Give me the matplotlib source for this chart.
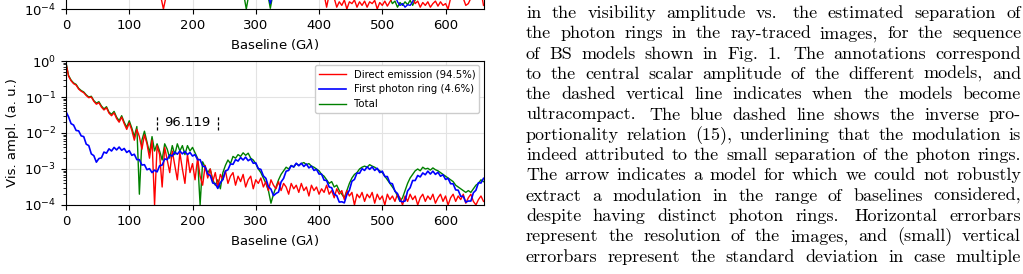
import matplotlib
matplotlib.use("Agg")
import matplotlib.pyplot as plt
import numpy as np

# sampling grid of the baseline (G lambda)
baseline = np.arange(0, 661, 4)

# log10 of the visibility amplitude
direct_log = [
    -0.06, -0.42, -0.55, -0.63, -0.67, -0.78, -0.84, -0.88, -0.96, -1.02,
    -1.00, -1.12, -1.20, -1.16, -1.28, -1.36, -1.30, -1.45, -1.52, -1.44,
    -1.60, -1.70, -1.56, -1.74, -1.90, -1.72, -1.92, -2.20, -1.90, -2.10,
    -2.45, -2.05, -2.30, -2.70, -2.20, -4.00, -2.35, -2.60, -3.50, -2.40,
    -2.75, -3.10, -2.50, -2.90, -3.30, -2.55, -3.00, -3.40, -2.60, -3.10,
    -2.85, -3.30, -2.70, -3.20, -3.45, -2.90, -3.25, -3.00, -3.35, -3.10,
    -3.50, -3.15, -3.30, -3.05, -3.40, -3.20, -3.10, -3.45, -3.20, -3.35,
    -3.15, -3.50, -3.30, -3.20, -3.55, -3.30, -3.40, -3.25, -3.50, -3.35,
    -3.60, -3.30, -3.45, -3.55, -3.35, -3.60, -3.40, -3.50, -3.70, -3.40,
    -3.55, -3.45, -3.65, -3.40, -3.60, -3.50, -3.75, -3.45, -3.60, -3.50,
    -3.70, -3.55, -3.65, -3.45, -3.70, -3.60, -3.80, -3.55, -3.70, -3.60,
    -3.85, -3.60, -3.75, -3.65, -4.00, -3.70, -3.80, -3.65, -3.90, -3.70,
    -3.80, -3.65, -3.95, -3.70, -3.85, -3.75, -4.00, -3.70, -3.85, -3.75,
    -3.90, -3.70, -3.80, -4.00, -3.75, -3.90, -3.70, -3.85, -3.75, -4.00,
    -3.80, -3.70, -3.90, -3.75, -3.85, -3.70, -3.95, -3.80, -3.70, -3.90,
    -3.75, -4.00, -3.80, -3.70, -3.90, -3.75, -3.85, -3.70, -3.95, -3.80,
    -3.70, -3.90, -4.00, -3.85, -3.75, -3.90,
]
ring_log = [
    -1.41, -1.55, -1.74, -1.78, -1.93, -1.94, -2.08, -2.10, -2.31, -2.35,
    -2.58, -2.63, -2.81, -2.71, -2.69, -2.53, -2.56, -2.44, -2.50, -2.40,
    -2.47, -2.39, -2.48, -2.43, -2.54, -2.49, -2.62, -2.59, -2.74, -2.74,
    -2.89, -2.88, -3.02, -2.99, -3.10, -3.03, -3.08, -2.91, -2.89, -2.72,
    -2.74, -2.61, -2.64, -2.53, -2.59, -2.50, -2.58, -2.51, -2.60, -2.54,
    -2.64, -2.60, -2.74, -2.74, -2.92, -2.94, -3.14, -3.18, -3.39, -3.41,
    -3.54, -3.38, -3.29, -3.06, -3.02, -2.86, -2.87, -2.74, -2.78, -2.68,
    -2.75, -2.67, -2.77, -2.72, -2.84, -2.83, -2.99, -3.01, -3.19, -3.26,
    -3.49, -3.56, -3.74, -3.68, -3.64, -3.36, -3.26, -3.06, -3.04, -2.91,
    -2.94, -2.84, -2.91, -2.84, -2.93, -2.86, -2.97, -2.92, -3.04, -3.01,
    -3.14, -3.14, -3.31, -3.32, -3.50, -3.52, -3.70, -3.74, -3.92, -3.91,
    -3.94, -3.71, -3.59, -3.34, -3.29, -3.11, -3.12, -2.99, -3.04, -2.94,
    -3.01, -2.94, -3.04, -2.98, -3.10, -3.06, -3.21, -3.21, -3.39, -3.41,
    -3.62, -3.68, -3.89, -3.91, -3.89, -3.61, -3.52, -3.32, -3.32, -3.18,
    -3.22, -3.11, -3.16, -3.06, -3.14, -3.06, -3.15, -3.09, -3.20, -3.16,
    -3.29, -3.26, -3.41, -3.41, -3.58, -3.59, -3.76, -3.76, -3.92, -3.89,
    -3.89, -3.66, -3.59, -3.38, -3.39, -3.26,
]
total_log = [
    -0.05, -0.40, -0.53, -0.61, -0.65, -0.76, -0.82, -0.86, -0.94, -1.00,
    -0.98, -1.10, -1.17, -1.13, -1.25, -1.33, -1.27, -1.42, -1.48, -1.40,
    -1.56, -1.66, -1.52, -1.70, -1.84, -1.66, -1.86, -2.10, -1.82, -3.70,
    -2.20, -1.95, -2.25, -2.55, -2.10, -2.50, -2.30, -2.50, -2.75, -2.30,
    -2.45, -2.70, -2.35, -2.60, -2.30, -2.50, -2.35, -2.60, -2.35, -2.50,
    -2.40, -2.55, -2.70, -4.00, -2.80, -2.95, -3.10, -3.00, -3.30, -3.45,
    -3.30, -3.55, -3.10, -2.90, -2.75, -2.85, -2.65, -2.70, -2.60, -2.65,
    -2.55, -2.62, -2.56, -2.70, -2.75, -2.85, -3.00, -3.10, -3.25, -3.40,
    -3.60, -3.95, -3.70, -3.50, -3.30, -3.15, -3.05, -2.95, -3.00, -2.90,
    -2.95, -2.85, -2.90, -2.85, -2.82, -2.88, -2.85, -2.92, -2.95, -3.00,
    -3.05, -3.15, -3.20, -3.30, -3.40, -3.35, -3.50, -3.45, -3.60, -3.70,
    -3.80, -3.60, -3.40, -3.25, -3.15, -3.10, -3.00, -2.95, -2.92, -2.95,
    -2.88, -2.92, -2.95, -3.00, -3.05, -3.10, -3.20, -3.30, -3.40, -3.50,
    -3.60, -3.75, -3.90, -3.80, -3.60, -3.40, -3.25, -3.15, -3.05, -3.00,
    -3.05, -2.95, -3.00, -2.98, -3.03, -2.97, -3.02, -3.05, -3.10, -3.15,
    -3.20, -3.25, -3.30, -3.35, -3.45, -3.50, -3.55, -3.60, -3.65, -3.60,
    -3.65, -3.55, -3.45, -3.40, -3.30, -3.35,
]

# upper panel: only its lowest strip is inside the crop
top_direct_x = [0, 148, 154, 160, 404, 408, 412, 416, 420, 424, 428, 432, 436,
                440, 444, 448, 452, 456, 460, 464, 468, 472, 476, 480, 484, 488,
                492, 496, 500, 504, 508, 512, 516, 520, 528, 540, 548, 552, 556,
                560, 564, 568, 572, 576, 580, 584, 588, 592, 596, 600, 604, 608,
                620, 628, 632, 636, 640, 652, 658, 660]
top_direct_log = [-2.0, -3.5, -4.0, -3.5, -3.5, -3.6, -3.95, -3.6, -3.5, -3.7,
                  -3.95, -3.8, -3.9, -3.75, -4.0, -3.8, -3.85, -3.75, -3.95, -3.8,
                  -3.9, -3.78, -3.95, -3.8, -3.85, -3.76, -4.0, -3.82, -3.9, -3.78,
                  -3.92, -3.8, -3.7, -3.6, -3.55, -3.6, -3.7, -3.85, -3.78, -3.95,
                  -3.82, -3.9, -3.8, -3.95, -3.85, -3.78, -3.92, -3.8, -3.9, -3.85,
                  -4.0, -3.7, -3.6, -3.7, -3.9, -3.85, -3.7, -3.6, -3.7, -3.9]
top_total_x = [0, 280, 285, 290, 318, 323, 328, 500, 512, 516, 520, 524, 528,
               532, 536, 540, 544, 548, 552, 556, 600, 660]
top_total_log = [-1.5, -3.5, -4.0, -3.5, -3.5, -3.98, -3.5, -3.5, -3.7, -3.85,
                 -3.78, -3.95, -3.82, -3.9, -3.8, -3.88, -3.76, -3.9, -3.75, -3.6,
                 -3.5, -3.3]
top_ring_x = [0, 318, 323, 328, 520, 524, 528, 532, 536, 540, 544, 548, 552, 660]
top_ring_log = [-1.5, -3.5, -3.85, -3.5, -3.6, -3.8, -3.9, -3.85, -3.95, -3.88,
                -3.9, -3.8, -3.6, -3.3]

labels = ["Direct emission (94.5%)", "First photon ring (4.6%)", "Total"]
period_label = "96.119"
period_start = 143.5
period = 96.119

caption_lines = [
    "in the visibility amplitude vs. the estimated separation of",
    "the photon rings in the ray-traced images, for the sequence",
    "of BS models shown in Fig. 1. The annotations correspond",
    "to the central scalar amplitude of the different models, and",
    "the dashed vertical line indicates when the models become",
    "ultracompact. The blue dashed line shows the inverse pro-",
    "portionality relation (15), underlining that the modulation is",
    "indeed attributed to the small separation of the photon rings.",
    "The arrow indicates a model for which we could not robustly",
    "extract a modulation in the range of baselines considered,",
    "despite having distinct photon rings. Horizontal errorbars",
    "represent the resolution of the images, and (small) vertical",
    "errorbars represent the standard deviation in case multiple",
]

W, H = 1023, 274
fig = plt.figure(figsize=(W / 100, H / 100), dpi=100)

ax = fig.add_axes([66 / W, 1 - 205 / H, 417.5 / W, 144 / H])
ax_top = fig.add_axes([66 / W, 1 - 9 / H, 417.5 / W, 144 / H])

c_direct, c_ring, c_total = "#ff0000", "#0000ff", "#008000"

for a in (ax, ax_top):
    a.set_yscale("log")
    a.set_xlim(0, 660)
    a.set_ylim(1e-4, 1e0)
    a.grid(True, color="#e3e3e3", linewidth=0.8)
    a.set_axisbelow(True)
    a.tick_params(labelsize=9.5)
    a.set_xlabel(r"Baseline (G$\lambda$)", fontsize=9.5)

# only the 1e-4 label of the upper panel lies inside the crop
ax_top.set_yticks([1e-4])

ax_top.plot(top_total_x, 10.0 ** np.array(top_total_log), color=c_total, lw=1.0)
ax_top.plot(top_direct_x, 10.0 ** np.array(top_direct_log), color=c_direct, lw=1.0)
ax_top.plot(top_ring_x, 10.0 ** np.array(top_ring_log), color=c_ring, lw=1.0)

l_tot, = ax.plot(baseline, 10.0 ** np.array(total_log), color=c_total, lw=1.0)
l_dir, = ax.plot(baseline, 10.0 ** np.array(direct_log), color=c_direct, lw=1.0)
l_ring, = ax.plot(baseline, 10.0 ** np.array(ring_log), color=c_ring, lw=1.2)

ax.set_ylabel("Vis. ampl. (a. u.)", fontsize=9.5)
ax.legend([l_dir, l_ring, l_tot], labels, loc="upper right", fontsize=7.3,
          handlelength=2.6, borderaxespad=0.4, framealpha=1.0)

for xv in (period_start, period_start + period):
    ax.plot([xv, xv], [0.012, 0.032], color="black", ls="--", lw=0.9, dashes=(2.5, 1.5))
ax.text(period_start + period / 2, 0.0195, period_label, ha="center", va="center",
        fontsize=9.5)

# justified caption text on the right
renderer = fig.canvas.get_renderer()
text_left, text_right = 526.0, 1021.0
first_base, line_gap = 18.0, 20.3

# pick the font size so that the widest line fits the column with normal spacing
probe = 10.0
natural = []
for line in caption_lines:
    words = line.split(" ")
    ws = 0.0
    for w in words:
        t = fig.text(0, 0, w, fontsize=probe, family="cmr10")
        ws += t.get_window_extent(renderer).width
        t.remove()
    natural.append(ws + (len(words) - 1) * 0.333 * probe * 100 / 72)
fsize = probe * 0.985 * (text_right - text_left) / max(natural)

for k, line in enumerate(caption_lines):
    words = line.split(" ")
    yb = 1 - (first_base + k * line_gap) / H
    texts = [fig.text(0, yb, w, fontsize=fsize, family="cmr10", va="baseline")
             for w in words]
    widths = [t.get_window_extent(renderer).width for t in texts]
    weights = [1.4 if (w.endswith(".") and w != "Fig.") else 1.0 for w in words[:-1]]
    gap = (text_right - text_left - sum(widths)) / sum(weights)
    x = text_left
    for t, wd, wt in zip(texts, widths, weights + [0.0]):
        t.set_x(x / W)
        x += wd + gap * wt

fig.savefig("out.png", dpi=100)
